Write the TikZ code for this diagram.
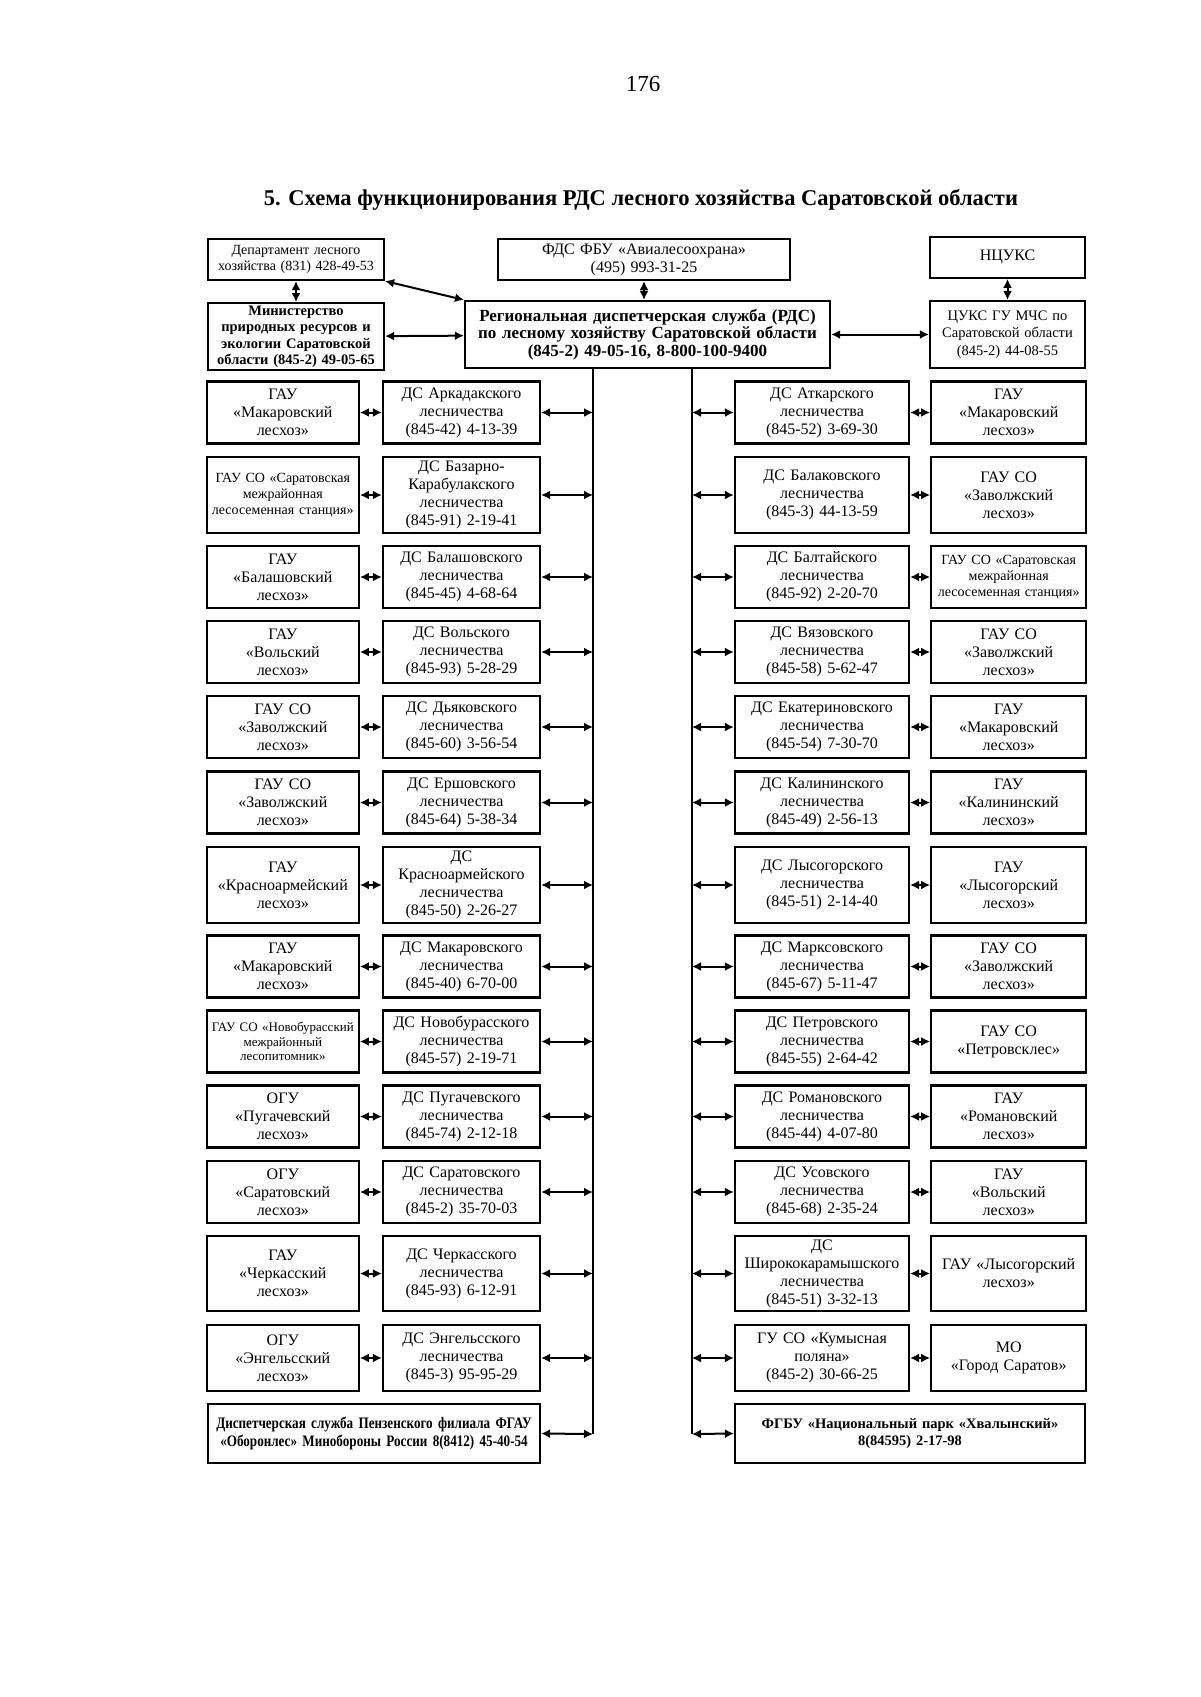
\documentclass[tikz,border=0pt]{standalone}
\usepackage{fontspec}
\setmainfont{Liberation Serif}
\newfontfamily\narrowserif{Liberation Serif}[FakeStretch=0.82]
\usetikzlibrary{arrows.meta,positioning}

\begin{document}
\begin{tikzpicture}[x=1pt,y=-1pt,node distance=22pt,
 every node/.style={font=\fontsize{16}{18}\selectfont},
 b/.style={draw,line width=2.2pt,align=center,inner sep=0pt},
 gl/.style={b,text width=152pt,minimum height=62pt},
 dl/.style={b,text width=157pt,minimum height=62pt},
 dr/.style={b,text width=174pt,minimum height=62pt},
 gr/.style={b,text width=155pt,minimum height=62pt,right=20pt of #1},
 sm/.style={font=\fontsize{14}{16}\selectfont},
 tn/.style={font=\fontsize{13}{14.6}\selectfont},
 arr/.style={{Latex[length=9pt,width=9pt]}-{Latex[length=9pt,width=9pt]},line width=2pt},
 ln/.style={line width=2.4pt}]
\useasboundingbox[fill=white] (0,0) rectangle (1200,1697);
\node[font=\fontsize{23}{26}\selectfont] (pg) at (643,84) {176};
\node[font=\bfseries\fontsize{22.5}{26}\selectfont] (ttl) at (641,200) {5. Схема функционирования РДС лесного хозяйства Саратовской области};
% top level
\node[b,sm,text width=176pt,minimum height=41pt] (dep) at (296,259.5) {Департамент лесного\\ хозяйства (831) 428-49-53};
\node[b,text width=176pt,minimum height=67pt,below=21pt of dep,font=\bfseries\fontsize{14.5}{16.6}\selectfont] (min) {Министерство\\ природных ресурсов и\\ экологии Саратовской\\ области (845-2) 49-05-65};
\node[b,text width=292pt,minimum height=41pt] (fds) at (644,259.5) {ФДС ФБУ «Авиалесоохрана»\\ (495) 993-31-25};
\node[b,text width=365pt,minimum height=67pt,font=\bfseries\fontsize{17}{17.5}\selectfont] (rds) at (647.5,334.5) {Региональная диспетчерская служба (РДС)\\ по лесному хозяйству Саратовской области\\ (845-2) 49-05-16, 8-800-100-9400};
\node[b,text width=155pt,minimum height=67pt,font=\fontsize{14.5}{17.3}\selectfont] (cuks) at (1007.5,334.5) {ЦУКС ГУ МЧС по\\ Саратовской области\\ (845-2) 44-08-55};
\node[b,text width=155pt,minimum height=41pt,above=21pt of cuks] (ncuks) {НЦУКС};
\draw[arr](dep)--(min);\draw[arr](dep.south east)--(rds.north west);\draw[arr](min)--(rds);
\draw[arr](fds.south)--(fds.south|-rds.north);\draw[arr](rds)--(cuks);\draw[arr](ncuks)--(cuks);
% trunk lines
\coordinate (lb) at (593,1434);\coordinate (rb) at (692,1434);
\draw[ln](rds.south-|lb)--(lb);\draw[ln](rds.south-|rb)--(rb);
% left column
\node[dl] (dl1) at (461.5,412.5) {ДС Аркадакского\\ лесничества\\ (845-42) 4-13-39};
\node[gl,left=of dl1] (gl1) {ГАУ\\ «Макаровский\\ лесхоз»};
\node[dl,minimum height=76pt] (dl2) at (461.5,495) {ДС Базарно-\\ Карабулакского\\ лесничества\\ (845-91) 2-19-41};
\node[gl,sm,minimum height=76pt,left=of dl2] (gl2) {ГАУ СО «Саратовская\\ межрайонная\\ лесосеменная станция»};
\node[dl] (dl3) at (461.5,577) {ДС Балашовского\\ лесничества\\ (845-45) 4-68-64};
\node[gl,left=of dl3] (gl3) {ГАУ\\ «Балашовский\\ лесхоз»};
\node[dl] (dl4) at (461.5,652) {ДС Вольского\\ лесничества\\ (845-93) 5-28-29};
\node[gl,left=of dl4] (gl4) {ГАУ\\ «Вольский\\ лесхоз»};
\node[dl] (dl5) at (461.5,727) {ДС Дьяковского\\ лесничества\\ (845-60) 3-56-54};
\node[gl,left=of dl5] (gl5) {ГАУ СО\\ «Заволжский\\ лесхоз»};
\node[dl] (dl6) at (461.5,802.5) {ДС Ершовского\\ лесничества\\ (845-64) 5-38-34};
\node[gl,left=of dl6] (gl6) {ГАУ СО\\ «Заволжский\\ лесхоз»};
\node[dl,minimum height=76pt] (dl7) at (461.5,885) {ДС\\ Красноармейского\\ лесничества\\ (845-50) 2-26-27};
\node[gl,minimum height=76pt,left=of dl7] (gl7) {ГАУ\\ «Красноармейский\\ лесхоз»};
\node[dl] (dl8) at (461.5,966.5) {ДС Макаровского\\ лесничества\\ (845-40) 6-70-00};
\node[gl,left=of dl8] (gl8) {ГАУ\\ «Макаровский\\ лесхоз»};
\node[dl] (dl9) at (461.5,1041.5) {ДС Новобурасского\\ лесничества\\ (845-57) 2-19-71};
\node[gl,tn,left=of dl9] (gl9) {ГАУ СО «Новобурасский\\ межрайонный\\ лесопитомник»};
\node[dl] (dl10) at (461.5,1116.5) {ДС Пугачевского\\ лесничества\\ (845-74) 2-12-18};
\node[gl,left=of dl10] (gl10) {ОГУ\\ «Пугачевский\\ лесхоз»};
\node[dl] (dl11) at (461.5,1192) {ДС Саратовского\\ лесничества\\ (845-2) 35-70-03};
\node[gl,left=of dl11] (gl11) {ОГУ\\ «Саратовский\\ лесхоз»};
\node[dl,minimum height=75pt] (dl12) at (461.5,1273.5) {ДС Черкасского\\ лесничества\\ (845-93) 6-12-91\\[2pt]};
\node[gl,minimum height=75pt,left=of dl12] (gl12) {ГАУ\\ «Черкасский\\ лесхоз»};
\node[dl,minimum height=66pt] (dl13) at (461.5,1358) {ДС Энгельсского\\ лесничества\\ (845-3) 95-95-29};
\node[gl,minimum height=66pt,left=of dl13] (gl13) {ОГУ\\ «Энгельсский\\ лесхоз»};
\node[b,text width=332pt,minimum height=59pt,font=\narrowserif\bfseries\fontsize{16}{17.3}\selectfont] (pz) at (374,1433.5) {Диспетчерская служба Пензенского филиала ФГАУ\\ «Оборонлес» Минобороны России 8(8412) 45-40-54};
% right column
\node[dr] (dr1) at (822,412.5) {ДС Аткарского\\ лесничества\\ (845-52) 3-69-30};
\node[gr=dr1] (gr1) {ГАУ\\ «Макаровский\\ лесхоз»};
\node[dr,minimum height=76pt] (dr2) at (822,495) {ДС Балаковского\\ лесничества\\ (845-3) 44-13-59};
\node[gr=dr2,minimum height=76pt] (gr2) {ГАУ СО\\ «Заволжский\\ лесхоз»};
\node[dr] (dr3) at (822,577) {ДС Балтайского\\ лесничества\\ (845-92) 2-20-70};
\node[gr=dr3,sm] (gr3) {ГАУ СО «Саратовская\\ межрайонная\\ лесосеменная станция»};
\node[dr] (dr4) at (822,652) {ДС Вязовского\\ лесничества\\ (845-58) 5-62-47};
\node[gr=dr4] (gr4) {ГАУ СО\\ «Заволжский\\ лесхоз»};
\node[dr] (dr5) at (822,727) {ДС Екатериновского\\ лесничества\\ (845-54) 7-30-70};
\node[gr=dr5] (gr5) {ГАУ\\ «Макаровский\\ лесхоз»};
\node[dr] (dr6) at (822,802.5) {ДС Калининского\\ лесничества\\ (845-49) 2-56-13};
\node[gr=dr6] (gr6) {ГАУ\\ «Калининский\\ лесхоз»};
\node[dr,minimum height=76pt] (dr7) at (822,885) {ДС Лысогорского\\ лесничества\\ (845-51) 2-14-40};
\node[gr=dr7,minimum height=76pt] (gr7) {ГАУ\\ «Лысогорский\\ лесхоз»};
\node[dr] (dr8) at (822,966.5) {ДС Марксовского\\ лесничества\\ (845-67) 5-11-47};
\node[gr=dr8] (gr8) {ГАУ СО\\ «Заволжский\\ лесхоз»};
\node[dr] (dr9) at (822,1041.5) {ДС Петровского\\ лесничества\\ (845-55) 2-64-42};
\node[gr=dr9] (gr9) {ГАУ СО\\ «Петровсклес»};
\node[dr] (dr10) at (822,1116.5) {ДС Романовского\\ лесничества\\ (845-44) 4-07-80};
\node[gr=dr10] (gr10) {ГАУ\\ «Романовский\\ лесхоз»};
\node[dr] (dr11) at (822,1192) {ДС Усовского\\ лесничества\\ (845-68) 2-35-24};
\node[gr=dr11] (gr11) {ГАУ\\ «Вольский\\ лесхоз»};
\node[dr,minimum height=75pt] (dr12) at (822,1273.5) {ДС\\ Ширококарамышского\\ лесничества\\ (845-51) 3-32-13};
\node[gr=dr12,minimum height=75pt] (gr12) {ГАУ «Лысогорский\\ лесхоз»};
\node[dr,minimum height=66pt] (dr13) at (822,1358) {ГУ СО «Кумысная\\ поляна»\\ (845-2) 30-66-25};
\node[gr=dr13,minimum height=66pt] (gr13) {МО\\ «Город Саратов»};
\node[b,text width=350pt,minimum height=59pt,font=\bfseries\fontsize{14.5}{17.5}\selectfont] (fgbu) at (910,1433.5) {ФГБУ «Национальный парк «Хвалынский»\\ 8(84595) 2-17-98};
% connectors
\draw[arr](gl1)--(dl1);\draw[arr](dl1.east)--(dl1.east-|lb);\draw[arr](dr1.west)--(dr1.west-|rb);\draw[arr](dr1)--(gr1);
\draw[arr](gl2)--(dl2);\draw[arr](dl2.east)--(dl2.east-|lb);\draw[arr](dr2.west)--(dr2.west-|rb);\draw[arr](dr2)--(gr2);
\draw[arr](gl3)--(dl3);\draw[arr](dl3.east)--(dl3.east-|lb);\draw[arr](dr3.west)--(dr3.west-|rb);\draw[arr](dr3)--(gr3);
\draw[arr](gl4)--(dl4);\draw[arr](dl4.east)--(dl4.east-|lb);\draw[arr](dr4.west)--(dr4.west-|rb);\draw[arr](dr4)--(gr4);
\draw[arr](gl5)--(dl5);\draw[arr](dl5.east)--(dl5.east-|lb);\draw[arr](dr5.west)--(dr5.west-|rb);\draw[arr](dr5)--(gr5);
\draw[arr](gl6)--(dl6);\draw[arr](dl6.east)--(dl6.east-|lb);\draw[arr](dr6.west)--(dr6.west-|rb);\draw[arr](dr6)--(gr6);
\draw[arr](gl7)--(dl7);\draw[arr](dl7.east)--(dl7.east-|lb);\draw[arr](dr7.west)--(dr7.west-|rb);\draw[arr](dr7)--(gr7);
\draw[arr](gl8)--(dl8);\draw[arr](dl8.east)--(dl8.east-|lb);\draw[arr](dr8.west)--(dr8.west-|rb);\draw[arr](dr8)--(gr8);
\draw[arr](gl9)--(dl9);\draw[arr](dl9.east)--(dl9.east-|lb);\draw[arr](dr9.west)--(dr9.west-|rb);\draw[arr](dr9)--(gr9);
\draw[arr](gl10)--(dl10);\draw[arr](dl10.east)--(dl10.east-|lb);\draw[arr](dr10.west)--(dr10.west-|rb);\draw[arr](dr10)--(gr10);
\draw[arr](gl11)--(dl11);\draw[arr](dl11.east)--(dl11.east-|lb);\draw[arr](dr11.west)--(dr11.west-|rb);\draw[arr](dr11)--(gr11);
\draw[arr](gl12)--(dl12);\draw[arr](dl12.east)--(dl12.east-|lb);\draw[arr](dr12.west)--(dr12.west-|rb);\draw[arr](dr12)--(gr12);
\draw[arr](gl13)--(dl13);\draw[arr](dl13.east)--(dl13.east-|lb);\draw[arr](dr13.west)--(dr13.west-|rb);\draw[arr](dr13)--(gr13);
\draw[arr](pz.east)--(lb);\draw[arr](fgbu.west)--(rb);
\end{tikzpicture}
\end{document}
